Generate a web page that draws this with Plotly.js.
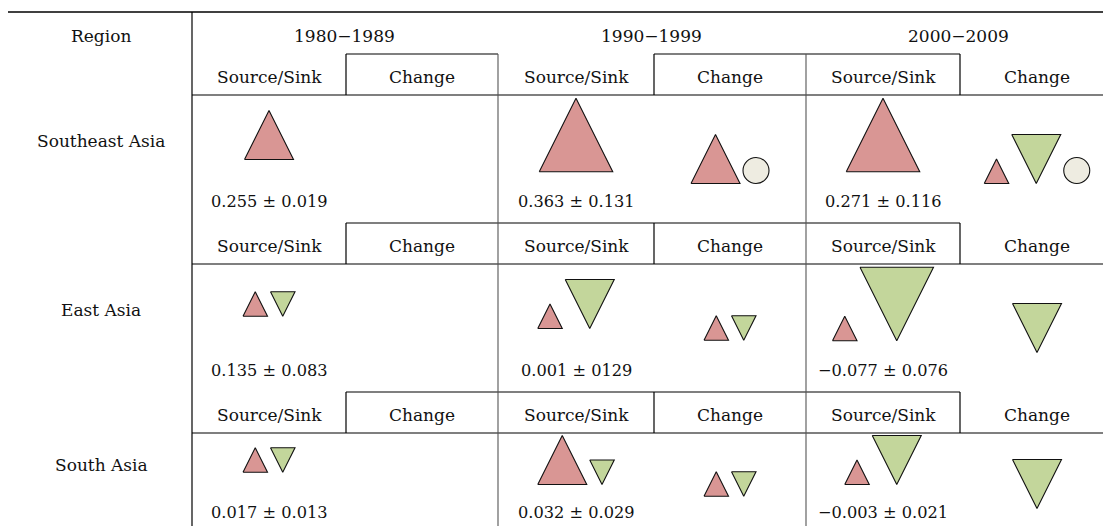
<!DOCTYPE html>
<html><head><meta charset="utf-8">
<script src="https://cdn.plot.ly/plotly-3.0.1.min.js"></script>
<style>html,body{margin:0;padding:0;background:#fff;overflow:hidden}</style>
</head><body>
<div id="chart" style="width:1103px;height:526px"></div>
<script>
// ---------------- DATA ----------------
const regionHeader = 'Region';
const regions = ['Southeast Asia', 'East Asia', 'South Asia'];
const decades = ['1980\u22121989', '1990\u22121999', '2000\u22122009'];
const subHeaders = ['Source/Sink', 'Change'];

const fluxSE = ['0.255 \u00b1 0.019', '0.363 \u00b1 0.131', '0.271 \u00b1 0.116'];
const fluxEA = ['0.135 \u00b1 0.083', '0.001 \u00b1 0129', '\u22120.077 \u00b1 0.076'];
const fluxSA = ['0.017 \u00b1 0.013', '0.032 \u00b1 0.029', '\u22120.003 \u00b1 0.021'];

// magnitude classes of the symbols (0 = none), per decade
const sourceSE = [2, 3, 3]; const sinkSE = [0, 0, 0];
const sourceEA = [1, 1, 1]; const sinkEA = [1, 2, 3];
const sourceSA = [1, 2, 1]; const sinkSA = [1, 1, 2];

const changeUpSE = [0, 2, 1]; const changeDownSE = [0, 0, 2]; const changeSteadySE = [0, 1, 1];
const changeUpEA = [0, 1, 0]; const changeDownEA = [0, 1, 2]; const changeSteadyEA = [0, 0, 0];
const changeUpSA = [0, 1, 0]; const changeDownSA = [0, 1, 2]; const changeSteadySA = [0, 0, 0];

// ---------------- LAYOUT GEOMETRY ----------------
const W = 1103, H = 526;
const U = 24.5, GAP = 3, CIRC = 26;
const srcCenterX = [269, 576, 883];
const chgCenterX = [422, 730, 1037];
const decadeCenterX = [344, 651, 958];
const rowTop = [95, 264, 433];
const glyphMid = [40, 40, 27];
const chgShift = 24;
const labelOff = [46, 46, 32];
const fluxOff = [106, 106, 79];
const subHeadY = [77, 246, 415];

const FONT = {family: 'DejaVu Serif, Liberation Serif, serif', size: 17, color: '#111'};
const FLUXFONT = {family: 'DejaVu Serif, Liberation Serif, serif', size: 16.2, color: '#111'};
const RED = '#d99694', GREEN = '#c3d69b', TAN = '#eeece1';

const sources = [sourceSE, sourceEA, sourceSA];
const sinks = [sinkSE, sinkEA, sinkSA];
const chUp = [changeUpSE, changeUpEA, changeUpSA];
const chDown = [changeDownSE, changeDownEA, changeDownSA];
const chSteady = [changeSteadySE, changeSteadyEA, changeSteadySA];
const fluxes = [fluxSE, fluxEA, fluxSA];

const upX = [], upY = [], downX = [], downY = [], circX = [], circY = [];

function placeGroup(items, cx, cy) {
  if (!items.length) return;
  const sz = items.map(it => it.kind === 'steady' ? CIRC : U * it.k);
  const total = sz.reduce((a, b) => a + b, 0) + GAP * (items.length - 1);
  const base = cy + Math.max(...sz) / 2;
  let x = cx - total / 2;
  items.forEach((it, i) => {
    const w = sz[i], h = sz[i];
    if (it.kind === 'up') {
      upX.push(x, x + w, x + w / 2, x, null);
      upY.push(base, base, base - h, base, null);
    } else if (it.kind === 'down') {
      downX.push(x, x + w, x + w / 2, x, null);
      downY.push(base - h, base - h, base, base - h, null);
    } else {
      circX.push(x + w / 2); circY.push(base - h / 2);
    }
    x += w + GAP;
  });
}

const annotations = [];
function txt(t, x, y, f) {
  annotations.push({text: t, x: x, y: y, xref: 'x', yref: 'y', showarrow: false,
    xanchor: 'center', yanchor: 'middle', font: f || FONT});
}

txt(regionHeader, 101, 36);
decades.forEach((d, j) => txt(d, decadeCenterX[j], 36));

for (let r = 0; r < regions.length; r++) {
  const top = rowTop[r];
  txt(regions[r], 101, top + labelOff[r]);
  for (let j = 0; j < decades.length; j++) {
    txt(subHeaders[0], srcCenterX[j], subHeadY[r]);
    txt(subHeaders[1], chgCenterX[j], subHeadY[r]);
    txt(fluxes[r][j], srcCenterX[j], top + fluxOff[r], FLUXFONT);
    const s = [];
    if (sources[r][j]) s.push({kind: 'up', k: sources[r][j]});
    if (sinks[r][j]) s.push({kind: 'down', k: sinks[r][j]});
    placeGroup(s, srcCenterX[j], top + glyphMid[r]);
    const c = [];
    if (chUp[r][j]) c.push({kind: 'up', k: chUp[r][j]});
    if (chDown[r][j]) c.push({kind: 'down', k: chDown[r][j]});
    if (chSteady[r][j]) c.push({kind: 'steady', k: chSteady[r][j]});
    placeGroup(c, chgCenterX[j], top + glyphMid[r] + chgShift);
  }
}

// table rules
const shapes = [];
function hl(x0, x1, y, w, col) { shapes.push({type: 'line', xref: 'x', yref: 'y', x0: x0, x1: x1, y0: y, y1: y, line: {color: col || '#000', width: w || 1.2}}); }
function vl(x, y0, y1, w, col) { shapes.push({type: 'line', xref: 'x', yref: 'y', x0: x, x1: x, y0: y0, y1: y1, line: {color: col || '#000', width: w || 1.2}}); }
hl(8, W, 12, 1.6);
hl(346, 498, 54); hl(654, 960, 54);
vl(346, 54, 95); vl(654, 54, 95); vl(960, 54, 95);
vl(192, 12, H);
rowTop.forEach((t, r) => {
  hl(192, W, t);
  if (r > 0) {
    const s = t - 41;
    hl(346, 960, s);
    vl(346, s, t); vl(654, s, t); vl(960, s, t);
  }
});
vl(498, 54, H, 1.1, '#555');
vl(806, 54, H, 1.1, '#555');

const traces = [
  {type: 'scatter', mode: 'lines', x: upX, y: upY, fill: 'toself', fillcolor: RED,
   line: {color: '#111', width: 1.1}, hoverinfo: 'skip'},
  {type: 'scatter', mode: 'lines', x: downX, y: downY, fill: 'toself', fillcolor: GREEN,
   line: {color: '#111', width: 1.1}, hoverinfo: 'skip'},
  {type: 'scatter', mode: 'markers', x: circX, y: circY,
   marker: {symbol: 'circle', size: CIRC, color: TAN, line: {color: '#111', width: 1.1}}, hoverinfo: 'skip'}
];

const layout = {
  width: W, height: H, autosize: false,
  margin: {l: 0, r: 0, t: 0, b: 0, pad: 0},
  paper_bgcolor: '#fff', plot_bgcolor: '#fff',
  showlegend: false, hovermode: false,
  xaxis: {range: [0, W], visible: false, fixedrange: true},
  yaxis: {range: [H, 0], visible: false, fixedrange: true},
  shapes: shapes, annotations: annotations
};
Plotly.newPlot('chart', traces, layout, {displayModeBar: false, staticPlot: true});
</script>
</body></html>
